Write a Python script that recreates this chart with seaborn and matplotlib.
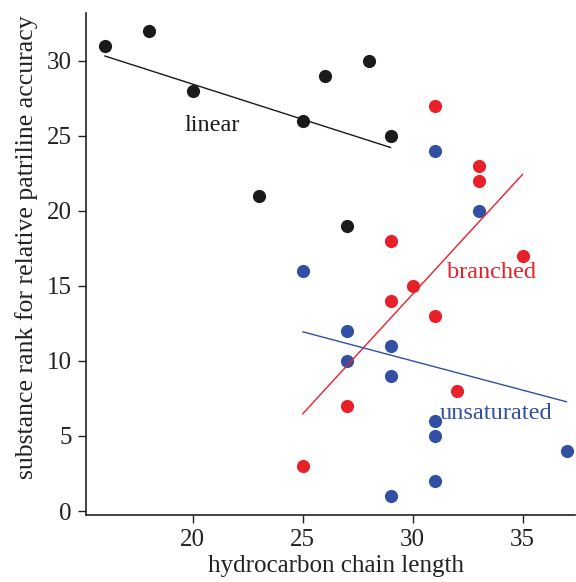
import numpy as np
import pandas as pd
import matplotlib
matplotlib.use("Agg")
import matplotlib.pyplot as plt
import seaborn as sns

# ==========================================
# DATA
# ==========================================

linear_x = [16, 18, 20, 23, 25, 26, 27, 28, 29]
linear_y = [31, 32, 28, 21, 26, 29, 19, 30, 25]

branched_x = [25, 27, 29, 29, 30, 31, 31, 32, 33, 33, 35]
branched_y = [3, 7, 18, 14, 15, 27, 13, 8, 23, 22, 17]

unsat_x = [25, 27, 27, 29, 29, 29, 31, 31, 31, 31, 33, 37]
unsat_y = [16, 12, 10, 11, 9, 1, 24, 6, 5, 2, 20, 4]

groups = ["linear", "branched", "unsaturated"]
colors = {"linear": "#1a1a1a", "branched": "#e8202a", "unsaturated": "#3250a3"}

df = pd.concat([
    pd.DataFrame({"length": linear_x, "rank": linear_y, "type": "linear"}),
    pd.DataFrame({"length": branched_x, "rank": branched_y, "type": "branched"}),
    pd.DataFrame({"length": unsat_x, "rank": unsat_y, "type": "unsaturated"}),
])

# ==========================================
# PLOT
# ==========================================

sns.set_style("ticks")
plt.rcParams["font.family"] = ["Liberation Serif", "DejaVu Serif"]

fig = plt.figure(figsize=(5.76, 5.82), dpi=100)
ax = fig.add_axes([0.149, 0.115, 0.85, 0.863])

for g in groups:
    sub = df[df["type"] == g]
    sns.regplot(
        data=sub,
        x="length",
        y="rank",
        ax=ax,
        ci=None,
        color=colors[g],
        scatter_kws={"s": 90, "linewidths": 0, "alpha": 1},
        line_kws={"linewidth": 1.0},
    )

ax.text(20.9, 25.7, "linear", color=colors["linear"],
        fontsize=17.5, ha="center", va="center")
ax.text(33.6, 15.9, "branched", color=colors["branched"],
        fontsize=17.5, ha="center", va="center")
ax.text(33.8, 6.5, "unsaturated", color=colors["unsaturated"],
        fontsize=17.5, ha="center", va="center")

ax.set_xlim(15.14, 37.4)
ax.set_ylim(-0.27, 33.2)
ax.set_xticks([20, 25, 30, 35])
ax.set_yticks([0, 5, 10, 15, 20, 25, 30])

ax.set_xlabel("hydrocarbon chain length", fontsize=18, color="#222222")
ax.set_ylabel("substance rank for relative patriline accuracy",
              fontsize=18.5, color="#222222")
ax.xaxis.set_label_coords(0.51, -0.079)
ax.yaxis.set_label_coords(-0.098, 0.534)

ax.tick_params(labelsize=18, length=6, width=1, colors="#222222", pad=4)

sns.despine(ax=ax)
for s in ["left", "bottom"]:
    ax.spines[s].set_linewidth(1.2)
    ax.spines[s].set_color("#222222")

fig.savefig("out.png", dpi=100)
